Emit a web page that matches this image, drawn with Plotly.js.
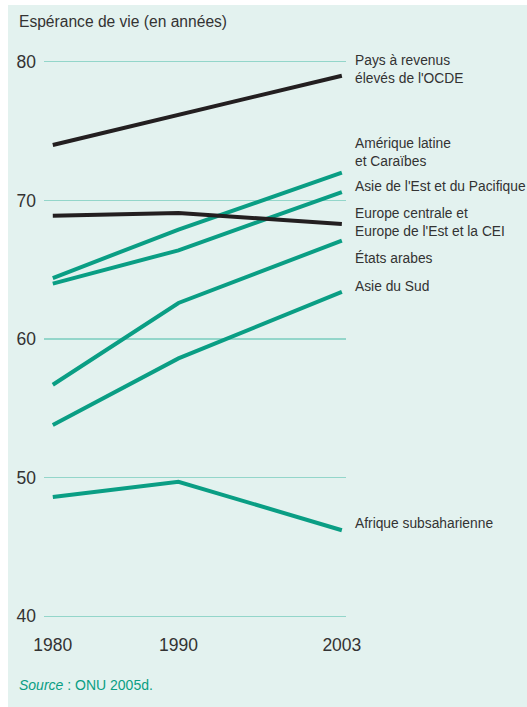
<!DOCTYPE html>
<html>
<head>
<meta charset="utf-8">
<script src="https://cdn.plot.ly/plotly-3.0.1.min.js"></script>
<style>
  html, body { margin: 0; padding: 0; background: #ffffff; }
  #chart { position: absolute; left: 8px; top: 5px; width: 519px; height: 702px; }
</style>
</head>
<body>
<div id="chart"></div>
<script>
// ---- data ----
const years = [1980, 1990, 2003];
const regions = [
  "Pays à revenus<br>élevés de l'OCDE",
  "Amérique latine<br>et Caraïbes",
  "Asie de l'Est et du Pacifique",
  "Europe centrale et<br>Europe de l'Est et la CEI",
  "États arabes",
  "Asie du Sud",
  "Afrique subsaharienne"
];
const oecd          = [74.0, 76.2, 79.0];
const latinAmerica  = [64.4, 67.9, 72.0];
const eastAsia      = [64.0, 66.4, 70.6];
const centralEurope = [68.9, 69.1, 68.3];
const arabStates    = [56.7, 62.6, 67.1];
const southAsia     = [53.8, 58.6, 63.4];
const subSaharan    = [48.6, 49.7, 46.2];
const seriesValues = [oecd, latinAmerica, eastAsia, centralEurope, arabStates, southAsia, subSaharan];
const yTicks = [40, 50, 60, 70, 80];
const xTicks = [1980, 1990, 2003];

// ---- styles ----
const BLACK = "#231f20";
const TEAL = "#0a9e84";
const seriesColors = [BLACK, TEAL, TEAL, BLACK, TEAL, TEAL, TEAL];
const labelY = [79.45, 73.45, 71.0, 68.4, 65.85, 63.8, 46.7];
const FONT = "'Liberation Sans', Arial, sans-serif";
const TXT = "#333333";
const BG = "#e3f2ef";

const traces = seriesValues.map((vals, i) => ({
  x: years,
  y: vals,
  type: "scatter",
  mode: "lines",
  line: { color: seriesColors[i], width: 4 },
  hoverinfo: "skip",
  showlegend: false
}));

const annotations = regions.map((name, i) => ({
  x: years[years.length - 1],
  y: labelY[i],
  xref: "x", yref: "y",
  text: name,
  showarrow: false,
  xanchor: "left", yanchor: "middle", align: "left",
  xshift: 11,
  font: { family: FONT, size: 13.8, color: TXT }
}));
annotations.push({
  xref: "paper", yref: "paper",
  x: -0.088, y: 1.045, xanchor: "left", yanchor: "middle",
  text: "Espérance de vie (en années)", showarrow: false,
  font: { family: FONT, size: 15.6, color: TXT }
});
annotations.push({
  xref: "paper", yref: "paper",
  x: -0.088, y: -0.095, xanchor: "left", yanchor: "middle",
  text: "<i>Source</i> : ONU 2005d.", showarrow: false,
  font: { family: FONT, size: 14, color: TEAL }
});

const layout = {
  width: 519, height: 702,
  margin: { l: 35.5, r: 181, t: 43, b: 77 },
  paper_bgcolor: BG,
  plot_bgcolor: BG,
  xaxis: {
    range: [1979.3, 2003.33],
    tickvals: xTicks,
    ticktext: xTicks.map(String),
    showgrid: false, zeroline: false, showline: false, ticks: "",
    tickfont: { family: FONT, size: 17.5, color: TXT },
    ticklabelstandoff: 2,
    fixedrange: true
  },
  yaxis: {
    range: [39, 81],
    tickvals: yTicks,
    ticktext: yTicks.map(String),
    showgrid: true, gridcolor: "#93d6ca", gridwidth: 1.2,
    zeroline: false, showline: false, ticks: "",
    tickfont: { family: FONT, size: 17.5, color: TXT },
    ticklabelstandoff: 7,
    fixedrange: true
  },
  annotations: annotations,
  showlegend: false
};

Plotly.newPlot("chart", traces, layout, { displayModeBar: false, staticPlot: true });
</script>
</body>
</html>
